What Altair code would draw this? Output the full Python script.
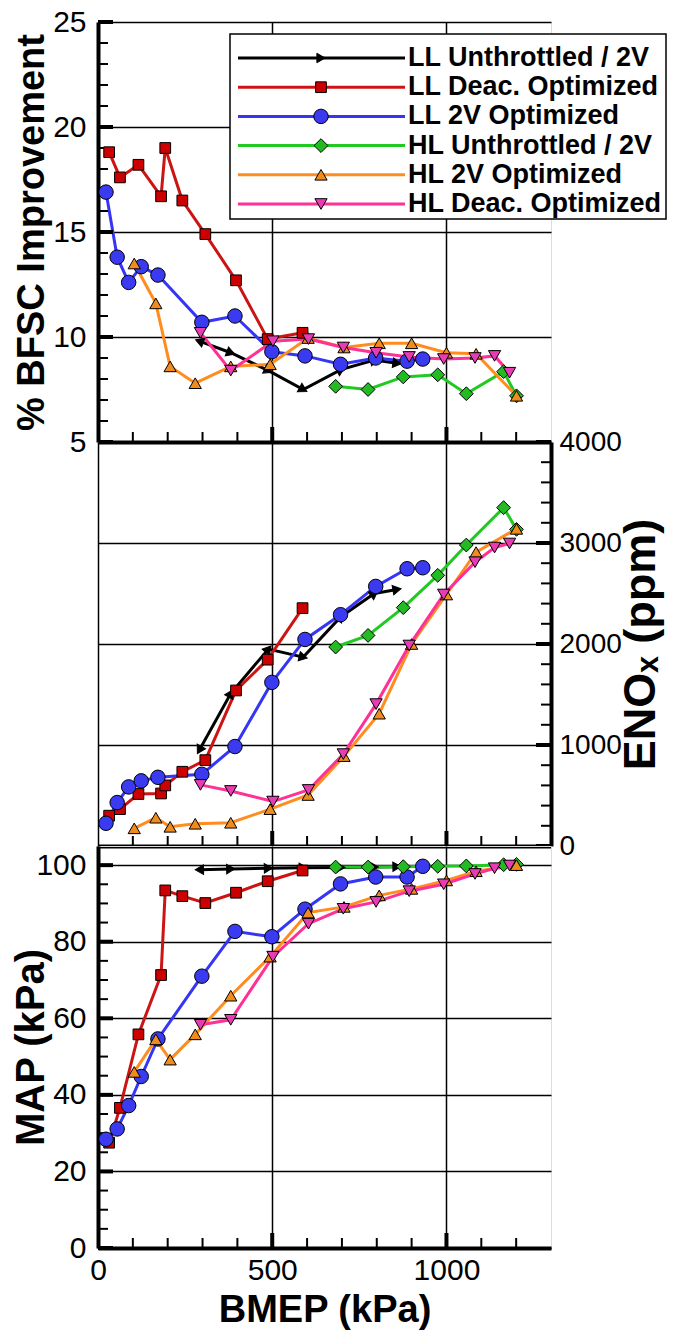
import math
import altair as alt
import pandas as pd

# ---------------- data ----------------
SERIES = ["LL Unthrottled / 2V", "LL Deac. Optimized", "LL 2V Optimized",
          "HL Unthrottled / 2V", "HL 2V Optimized", "HL Deac. Optimized"]

llu_bmep = [291, 381, 489, 589, 697, 793, 858]
llu_bsfc = [9.8, 9.25, 8.4, 7.5, 8.45, 8.9, 8.75]
llu_nox = [950, 1510, 1950, 1870, 2270, 2500, 2540]
llu_map = [98.8, 99.0, 99.2, 99.3, 99.4, 99.5, 99.6]

lld_bmep = [32, 63, 116, 181, 193, 242, 308, 396, 487, 587]
lld_bsfc = [18.8, 17.6, 18.2, 16.7, 19.0, 16.5, 14.9, 12.7, 9.9, 10.2]
lld_nox = [300, 365, 515, 520, 600, 735, 850, 1540, 1845, 2355]
lld_map = [27.5, 36.6, 55.8, 71.3, 93.4, 91.9, 90.1, 92.8, 95.8, 98.6]

ll2_bmep = [23, 55, 88, 124, 172, 298, 393, 499, 594, 696, 797, 887, 932]
ll2_bsfc = [16.9, 13.8, 12.6, 13.35, 12.95, 10.7, 11.0, 9.3, 9.1, 8.7, 9.0, 8.85, 8.95]
ll2_nox = [225, 430, 585, 645, 680, 710, 985, 1620, 2045, 2290, 2570, 2745, 2755]
ll2_map = [28.4, 31.1, 37.2, 44.8, 54.6, 71.0, 82.7, 81.3, 88.5, 95.1, 96.9, 96.9, 99.7]

hlu_bmep = [682, 775, 876, 975, 1057, 1164, 1201]
hlu_bsfc = [7.65, 7.5, 8.1, 8.2, 7.3, 8.35, 7.2]
hlu_nox = [1970, 2085, 2360, 2680, 2980, 3350, 3135]
hlu_map = [99.5, 99.5, 99.6, 99.7, 99.8, 100.1, 100.2]

hl2_bmep = [104, 166, 207, 279, 381, 494, 603, 706, 807, 900, 1000, 1085, 1201]
hl2_bsfc = [13.5, 11.6, 8.6, 7.8, 8.6, 8.7, 9.95, 9.5, 9.7, 9.7, 9.25, 9.2, 7.2]
hl2_nox = [175, 280, 190, 220, 230, 365, 505, 890, 1310, 2000, 2490, 2910, 3140]
hl2_map = [46.0, 54.5, 49.2, 55.8, 65.9, 76.1, 87.6, 89.1, 92.1, 93.8, 96.0, 98.4, 100.0]

hld_bmep = [294, 381, 502, 604, 704, 798, 893, 992, 1082, 1138, 1181]
hld_bsfc = [10.2, 8.4, 9.8, 9.9, 9.5, 9.25, 9.05, 8.95, 9.0, 9.1, 8.3]
hld_nox = [605, 545, 440, 555, 910, 1405, 1985, 2490, 2810, 2955, 2995]
hld_map = [58.3, 59.6, 76.1, 84.7, 88.6, 90.4, 93.2, 95.0, 97.7, 99.2, 99.9]

X_TICKS = [0, 500, 1000]
BSFC_TICKS = [5, 10, 15, 20, 25]
NOX_TICKS = [0, 1000, 2000, 3000, 4000]
MAP_TICKS = [0, 20, 40, 60, 80, 100]

# ---------------- style ----------------
LINE_COLORS = ["#000000", "#cc1414", "#3535f5", "#22c922", "#ff8c1e", "#ff3096"]
FILL_COLORS = ["#000000", "#cc0000", "#3a3af0", "#22bb22", "#f08c1e", "#e83cb4"]
SHAPES = ["triangle-right", "square", "circle", "diamond", "triangle-up", "triangle-down"]
MSIZES = [90, 115, 210, 190, 150, 150]
FONT = "Liberation Sans"

W = 453
H_TOP, H_MID, H_BOT = 420, 404, 402
X_DOM = [0, 1300]
BSFC_DOM = [5, 25]
NOX_DOM = [0, 4000]
MAP_DOM = [0, 105]

raw = [
    (llu_bmep, llu_bsfc, llu_nox, llu_map),
    (lld_bmep, lld_bsfc, lld_nox, lld_map),
    (ll2_bmep, ll2_bsfc, ll2_nox, ll2_map),
    (hlu_bmep, hlu_bsfc, hlu_nox, hlu_map),
    (hl2_bmep, hl2_bsfc, hl2_nox, hl2_map),
    (hld_bmep, hld_bsfc, hld_nox, hld_map),
]

KX = W / (X_DOM[1] - X_DOM[0])


def arrow_angles(xs, ys, ky):
    out = []
    for i in range(len(xs)):
        if i == 0:
            dx, dy = xs[0] - xs[1], ys[0] - ys[1]
        else:
            dx, dy = xs[i] - xs[i - 1], ys[i] - ys[i - 1]
        out.append(math.degrees(math.atan2(-dy * ky, dx * KX)) % 360)
    return out


rows = []
for name, (bx, bs, nx, mp) in zip(SERIES, raw):
    a_bs = arrow_angles(bx, bs, H_TOP / (BSFC_DOM[1] - BSFC_DOM[0]))
    a_nx = arrow_angles(bx, nx, H_MID / (NOX_DOM[1] - NOX_DOM[0]))
    a_mp = arrow_angles(bx, mp, H_BOT / (MAP_DOM[1] - MAP_DOM[0]))
    for i in range(len(bx)):
        rows.append({"series": name, "idx": i, "bmep": bx[i], "bsfc": bs[i],
                     "nox": nx[i], "map": mp[i],
                     "a_bsfc": a_bs[i], "a_nox": a_nx[i], "a_map": a_mp[i]})
df = pd.DataFrame(rows)

color_scale = alt.Scale(domain=SERIES, range=LINE_COLORS)
xscale = alt.Scale(domain=X_DOM, nice=False, zero=False)


def x_axis(show):
    if show:
        return alt.Axis(values=X_TICKS, labels=True, labelFontSize=30, labelPadding=7,
                        labelFlush=False, format="d", ticks=False, domainColor="black",
                        domainWidth=4, grid=True, gridColor="black", gridWidth=1.5,
                        gridOpacity=1, title="BMEP (kPa)", titleFontSize=38,
                        titleFontWeight="bold", titlePadding=6)
    return alt.Axis(values=X_TICKS, labels=False, ticks=False, domainColor="black",
                    domainWidth=4, grid=True, gridColor="black", gridWidth=1.5,
                    gridOpacity=1, title=None)


X_MAJOR = [500, 1000]
X_MINOR = [v for v in range(100, 1300, 100) if v % 500 != 0]


def tick_layers(dom, h, major, minor, side, xax):
    ys = alt.Scale(domain=dom, nice=False, zero=False)
    out = []
    for vals, ln, wd in ((major, 15, 4), (minor, 10, 2)):
        d = pd.DataFrame({"v": vals})
        if side == "left":
            xa, xb = alt.value(0), alt.value(ln)
        else:
            xa, xb = alt.value(W), alt.value(W - ln)
        out.append(alt.Chart(d).mark_rule(color="black", strokeWidth=wd).encode(
            y=alt.Y("v:Q", scale=ys, axis=None), x=xa, x2=xb))
    for vals, ln, wd in ((X_MAJOR, 15, 4), (X_MINOR, 10, 2)):
        d = pd.DataFrame({"bmep": vals})
        out.append(alt.Chart(d).mark_rule(color="black", strokeWidth=wd).encode(
            x=alt.X("bmep:Q", scale=xscale, axis=xax), y=alt.value(h), y2=alt.value(h - ln)))
    return out


def panel(field, dom, h, yaxis, show_x, angle_field, major, minor, side, extra=None):
    ys = alt.Scale(domain=dom, nice=False, zero=False)
    xax = x_axis(show_x)
    xenc = alt.X("bmep:Q", scale=xscale, axis=xax)
    line = alt.Chart(df).mark_line(strokeWidth=3).encode(
        x=xenc,
        y=alt.Y(f"{field}:Q", scale=ys, axis=yaxis),
        color=alt.Color("series:N", scale=color_scale, legend=None),
        detail="series:N",
        order="idx:Q",
    )
    layers = [line] + tick_layers(dom, h, major, minor, side, xax)
    for i, name in enumerate(SERIES):
        sub = df[df["series"] == name]
        enc = dict(x=xenc, y=alt.Y(f"{field}:Q", scale=ys, axis=None))
        if i == 0:
            enc["angle"] = alt.Angle(f"{angle_field}:Q", scale=None)
        layers.append(alt.Chart(sub).mark_point(
            shape=SHAPES[i], filled=True, fill=FILL_COLORS[i],
            stroke="black", strokeWidth=1, size=MSIZES[i], opacity=1).encode(**enc))
    if extra:
        layers += extra
    return alt.layer(*layers).resolve_scale(y="independent").properties(width=W, height=h)


# ---------------- legend (top panel) ----------------
leg = pd.DataFrame({"series": SERIES})
leg_y = alt.Y("series:N", scale=alt.Scale(type="point", domain=SERIES, range=[36, 182], padding=0),
              axis=None)
legend_layers = [
    alt.Chart(pd.DataFrame({"k": [0]})).mark_rect(fill="white", stroke="black", strokeWidth=1.5).encode(
        x=alt.value(132), x2=alt.value(568), y=alt.value(12), y2=alt.value(197)),
    alt.Chart(leg).mark_rule(strokeWidth=3).encode(
        x=alt.value(140), x2=alt.value(307), y=leg_y,
        color=alt.Color("series:N", scale=color_scale, legend=None)),
]
for i, name in enumerate(SERIES):
    legend_layers.append(alt.Chart(leg[leg["series"] == name]).mark_point(
        shape=SHAPES[i], filled=True, fill=FILL_COLORS[i], stroke="black",
        strokeWidth=1, size=MSIZES[i], opacity=1).encode(x=alt.value(223), y=leg_y))
legend_layers.append(alt.Chart(leg).mark_text(
    align="left", baseline="middle", fontSize=27, fontWeight="bold", font=FONT,
    color="black").encode(x=alt.value(310), y=leg_y, text="series:N"))

# ---------------- panels ----------------
top_axis = alt.Axis(values=BSFC_TICKS, labelFontSize=30, labelPadding=12, ticks=False,
                    domainColor="black", domainWidth=4, grid=True, gridColor="black",
                    gridWidth=1.5, gridOpacity=1, title="% BFSC Improvement",
                    titleFontSize=38, titleFontWeight="bold", titleX=-47)
mid_axis = alt.Axis(orient="right", values=NOX_TICKS, format="d", labelFontSize=28,
                    labelPadding=8, ticks=False, domainColor="black", domainWidth=4,
                    grid=True, gridColor="black", gridWidth=1.5, gridOpacity=1,
                    title="ENOₓ (ppm)", titleFontSize=45, titleFontWeight="bold",
                    titleAngle=270, titleBaseline="top", titleX=67)
bot_axis = alt.Axis(values=MAP_TICKS, labelFontSize=30, labelPadding=12, ticks=False,
                    domainColor="black", domainWidth=4, grid=True, gridColor="black",
                    gridWidth=1.5, gridOpacity=1, title="MAP (kPa)",
                    titleFontSize=40, titleFontWeight="bold", titleX=-47)

top = panel("bsfc", BSFC_DOM, H_TOP, top_axis, False, "a_bsfc", BSFC_TICKS,
            [v for v in range(6, 25) if v % 5 != 0], "left", legend_layers)
mid = panel("nox", NOX_DOM, H_MID, mid_axis, False, "a_nox", NOX_TICKS,
            [v for v in range(200, 4000, 200) if v % 1000 != 0], "right")
bot = panel("map", MAP_DOM, H_BOT, bot_axis, True, "a_map", MAP_TICKS,
            [v for v in range(5, 105, 5) if v % 20 != 0], "left")

chart = alt.vconcat(top, mid, bot, spacing=0, bounds="flush").properties(
    padding={"left": 10, "top": 6, "right": 0, "bottom": 4}
).configure_view(stroke="black", strokeWidth=1.5).configure_axis(
    labelFont=FONT, titleFont=FONT, labelColor="black", titleColor="black"
).configure(background="white")

chart.save("out.html", embed_options={"renderer": "svg", "actions": False})
